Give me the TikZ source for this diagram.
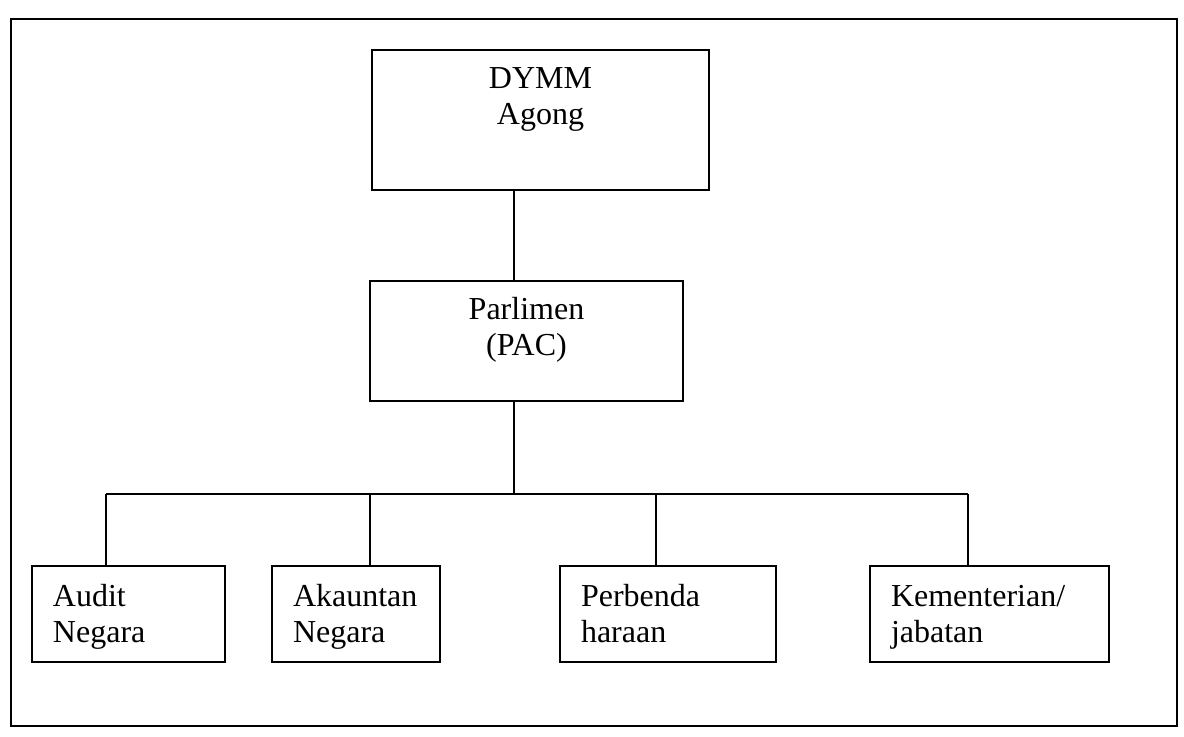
\documentclass[tikz,border=0pt]{standalone}
\usepackage{fontspec}
\setmainfont{Liberation Serif}
\usetikzlibrary{positioning}

\newcommand{\twolines}[3][c]{\noindent\begin{tabular}[t]{@{}#1@{}}#2\\#3\end{tabular}}

\tikzset{
  orgbox/.style={draw, line width=1pt, inner ysep=0pt, anchor=north west},
  topbox/.style={orgbox, inner xsep=0pt, align=center, text height=19.5pt},
  lowbox/.style={orgbox, inner xsep=10.5pt, align=left, text height=20pt, text depth=28pt},
  link/.style={line width=0.8pt},
}

\begin{document}
\begin{tikzpicture}[x=0.5pt, y=-0.5pt, font=\fontsize{16}{18}\selectfont]
  \useasboundingbox (0,0) rectangle (1184,737);

  % Outer frame
  \draw[line width=1pt] (11,19) rectangle (1177,726);

  % Top of the chart
  \node[topbox, text width=168.5pt, text depth=50.5pt] (dymm) at (371,49) {\twolines{DYMM}{Agong}};
  \node[topbox, text width=156.5pt, text depth=40.5pt] (parlimen) at (369,280) {\twolines{Parlimen}{(PAC)}};

  % Bottom row
  \node[lowbox, text width=75.5pt] (audit) at (31,565) {\twolines[l]{Audit}{Negara}};
  \node[lowbox, text width=63pt] (akauntan) at (271,565) {\twolines[l]{Akauntan}{Negara}};
  \node[lowbox, text width=87pt] (perbenda) at (559,565) {\twolines[l]{Perbenda}{haraan}};
  \node[lowbox, text width=98.5pt] (kementerian) at (869,565) {\twolines[l]{Kementerian/}{jabatan}};

  % Connectors
  \coordinate (spine) at (514,494);
  \draw[link] (dymm.south -| spine) -- (parlimen.north -| spine);
  \draw[link] (parlimen.south -| spine) -- (spine);

  \coordinate (b1) at (106,494);
  \coordinate (b2) at (370,494);
  \coordinate (b3) at (656,494);
  \coordinate (b4) at (968,494);
  \draw[link] (b1) -- (b4);
  \foreach \c/\n in {b1/audit, b2/akauntan, b3/perbenda, b4/kementerian}
    \draw[link] (\c) -- (\n.north -| \c);

\end{tikzpicture}
\end{document}
